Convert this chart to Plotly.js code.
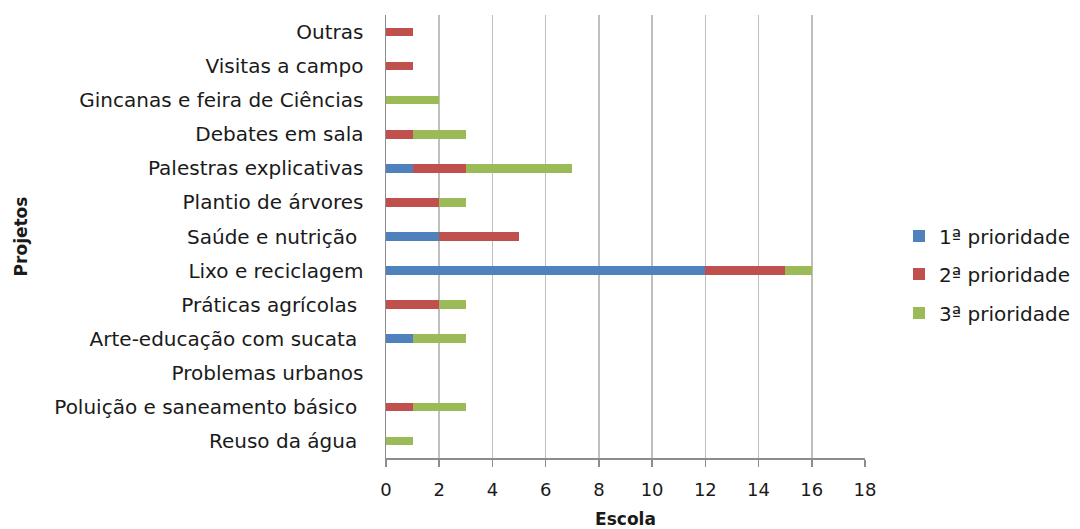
<!DOCTYPE html>
<html>
<head>
<meta charset="utf-8">
<script src="https://cdn.plot.ly/plotly-3.0.1.min.js"></script>
<style>
  html, body { margin: 0; padding: 0; background: #fff; }
  #chart { width: 1080px; height: 529px; }
</style>
</head>
<body>
<div id="chart"></div>
<script>
// Project categories, listed bottom to top
const projetos = [
  "Reuso da água\u00a0",
  "Poluição e saneamento básico\u00a0",
  "Problemas urbanos",
  "Arte-educação com sucata\u00a0",
  "Práticas agrícolas\u00a0",
  "Lixo e reciclagem",
  "Saúde e nutrição\u00a0",
  "Plantio de árvores",
  "Palestras explicativas",
  "Debates em sala",
  "Gincanas e feira de Ciências",
  "Visitas a campo",
  "Outras"
];

// Number of schools by priority level
const prioridade1 = [0, 0, 0, 1, 0, 12, 2, 0, 1, 0, 0, 0, 0];
const prioridade2 = [0, 1, 0, 0, 2, 3, 3, 2, 2, 1, 0, 1, 1];
const prioridade3 = [1, 2, 0, 2, 1, 1, 0, 1, 4, 2, 2, 0, 0];

const seriesNames = ["1ª prioridade", "2ª prioridade", "3ª prioridade"];
const xTicks = [0, 2, 4, 6, 8, 10, 12, 14, 16, 18];

const colors = ["#4F81BD", "#C0504D", "#9BBB59"];
const fontFamily = "'DejaVu Sans', sans-serif";
const textColor = "#1a1a1a";

// one legend per series, placed in container coordinates so each entry
// sits at its own height without reserving extra margin
const W = 1080, H = 529;
const legendIds = ["legend", "legend2", "legend3"];
const legendRowsPx = [236, 274, 313];

const traces = [prioridade1, prioridade2, prioridade3].map((vals, i) => ({
  type: "bar",
  orientation: "h",
  name: seriesNames[i],
  legend: legendIds[i],
  y: projetos,
  x: vals,
  width: 0.25,
  marker: { color: colors[i], line: { width: 0 } },
  hoverinfo: "x+y+name"
}));

const legendStyle = (rowPx) => ({
  xref: "container", yref: "container",
  x: 899 / W, xanchor: "left",
  y: 1 - rowPx / H, yanchor: "middle",
  font: { size: 20, family: fontFamily, color: textColor },
  itemwidth: 30,
  bgcolor: "rgba(0,0,0,0)",
  borderwidth: 0
});

const layout = {
  width: W,
  height: H,
  barmode: "stack",
  paper_bgcolor: "#fff",
  plot_bgcolor: "#fff",
  margin: { l: 386, r: 215, t: 15, b: 71, pad: 0 },
  font: { family: fontFamily, color: textColor, size: 17 },
  xaxis: {
    range: [0, 18],
    tickvals: xTicks,
    ticktext: xTicks.map(String),
    showgrid: true,
    gridcolor: "#BFBFBF",
    gridwidth: 1.5,
    zeroline: false,
    showline: true,
    linecolor: "#8C8C8C",
    linewidth: 1.5,
    ticks: "outside",
    ticklen: 7,
    tickcolor: "#8C8C8C",
    tickwidth: 1.5,
    ticklabelstandoff: 8,
    tickfont: { size: 18, family: fontFamily, color: textColor },
    title: { text: "<b>Escola</b>", font: { size: 17, family: fontFamily, color: textColor }, standoff: 16 },
    automargin: false,
    fixedrange: true
  },
  yaxis: {
    categoryorder: "array",
    categoryarray: projetos,
    showgrid: false,
    zeroline: false,
    showline: true,
    linecolor: "#8C8C8C",
    linewidth: 1.5,
    ticks: "",
    ticklabelstandoff: 17,
    tickfont: { size: 20, family: fontFamily, color: textColor },
    title: { text: "<b>Projetos</b>", font: { size: 17, family: fontFamily, color: textColor }, standoff: 22 },
    automargin: false,
    fixedrange: true
  },
  legend: legendStyle(legendRowsPx[0]),
  legend2: legendStyle(legendRowsPx[1]),
  legend3: legendStyle(legendRowsPx[2]),
  showlegend: true
};

Plotly.newPlot("chart", traces, layout, { displayModeBar: false, staticPlot: true });
</script>
</body>
</html>
